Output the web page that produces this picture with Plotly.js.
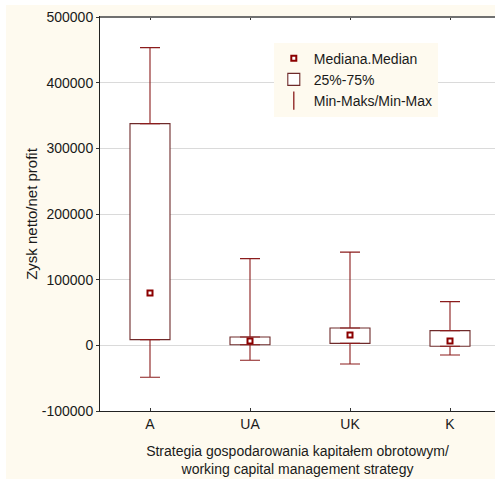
<!DOCTYPE html>
<html>
<head>
<meta charset="utf-8">
<script src="https://cdn.plot.ly/plotly-3.0.1.min.js"></script>
<style>
  html, body { margin: 0; padding: 0; background: #ffffff; }
  #chart { position: absolute; left: 6px; top: 5px; width: 489px; height: 474px; }
</style>
</head>
<body>
<div id="chart"></div>
<script>
// ---- data ----
var categories = ['A', 'UA', 'UK', 'K'];
var minValues    = [-48700, -22800, -28400, -14700];
var q1Values     = [8700, 1000, 3000, -1500];
var medianValues = [79600, 6500, 15700, 6500];
var q3Values     = [337600, 12600, 26400, 22400];
var maxValues    = [453300, 132000, 142000, 66500];
var yTickValues  = [-100000, 0, 100000, 200000, 300000, 400000, 500000];
var yTickLabels  = ['-100000', '0', '100000', '200000', '300000', '400000', '500000'];

var legendMedian = 'Mediana.Median';
var legendBox    = '25%-75%';
var legendRange  = 'Min-Maks/Min-Max';
var xTitle = 'Strategia gospodarowania kapitałem obrotowym/<br>working capital management strategy';
var yTitle = 'Zysk netto/net profit';

// ---- derived ----
var boxHeights = q3Values.map(function (v, i) { return v - q1Values[i]; });
var upperLen = maxValues.map(function (v, i) { return v - q3Values[i]; });
var lowerLen = q1Values.map(function (v, i) { return v - minValues[i]; });
var zeros = categories.map(function () { return 0; });

var boxLine = '#6e2a2a';
var whiskerColor = '#8b1c1c';
var medianColor = '#8b0000';
var font = 'Arial, "Liberation Sans", sans-serif';

var traces = [
  {
    type: 'bar', name: legendBox, x: categories, y: boxHeights, base: q1Values,
    width: 0.4,
    marker: { color: '#ffffff', line: { color: boxLine, width: 1.1 } },
    legendrank: 2, hoverinfo: 'skip'
  },
  {
    type: 'scatter', mode: 'markers', x: categories, y: q3Values,
    marker: { color: 'rgba(0,0,0,0)', size: 1 },
    error_y: { type: 'data', symmetric: false, array: upperLen, arrayminus: zeros,
               color: whiskerColor, thickness: 1.1, width: 10 },
    showlegend: false, hoverinfo: 'skip'
  },
  {
    type: 'scatter', mode: 'markers', x: categories, y: q1Values,
    marker: { color: 'rgba(0,0,0,0)', size: 1 },
    error_y: { type: 'data', symmetric: false, array: zeros, arrayminus: lowerLen,
               color: whiskerColor, thickness: 1.1, width: 10 },
    showlegend: false, hoverinfo: 'skip'
  },
  {
    type: 'scatter', mode: 'markers', name: legendMedian, x: categories, y: medianValues,
    marker: { symbol: 'square', size: 5, color: '#ffffff', line: { color: medianColor, width: 2 } },
    legendrank: 1
  },
  {
    type: 'scatter', mode: 'markers', name: legendRange, x: [null], y: [null],
    marker: { symbol: 'line-ns-open', size: 13, color: whiskerColor, line: { color: whiskerColor, width: 1.3 } },
    legendrank: 3
  }
];

var layout = {
  width: 489, height: 474,
  margin: { l: 94, r: 0, t: 12, b: 68 },
  paper_bgcolor: '#fefaef',
  plot_bgcolor: '#ffffff',
  font: { family: font, size: 14, color: '#1a1a1a' },
  showlegend: true,
  bargap: 0,
  legend: {
    x: 0.44, y: 0.935, xanchor: 'left', yanchor: 'top',
    bgcolor: '#fefaef', borderwidth: 0,
    font: { family: font, size: 14, color: '#1a1a1a' },
    traceorder: 'normal', tracegroupgap: 0
  },
  xaxis: {
    type: 'category', range: [-0.5, 3.45],
    showline: true, linecolor: '#222222', linewidth: 1,
    mirror: 'ticks', ticks: 'inside', ticklen: 3, tickcolor: '#333333',
    showgrid: false, zeroline: false,
    tickfont: { family: font, size: 14, color: '#1a1a1a' },
    title: { text: xTitle, font: { family: font, size: 14, color: '#1a1a1a' }, standoff: 15 }
  },
  yaxis: {
    range: [-100000, 500000],
    tickvals: yTickValues, ticktext: yTickLabels,
    showline: true, linecolor: '#222222', linewidth: 1,
    ticks: 'outside', ticklen: 3, tickcolor: '#333333',
    showgrid: true, gridcolor: '#dadada', gridwidth: 1,
    zeroline: false,
    tickfont: { family: font, size: 14, color: '#1a1a1a' },
    title: { text: yTitle, font: { family: font, size: 15, color: '#1a1a1a' }, standoff: 0 }
  },
  shapes: [
    { type: 'line', xref: 'paper', yref: 'paper', x0: 0, x1: 1, y0: 1, y1: 1,
      line: { color: '#707070', width: 2 } }
  ]
};

Plotly.newPlot('chart', traces, layout, { displayModeBar: false, staticPlot: true });
</script>
</body>
</html>
